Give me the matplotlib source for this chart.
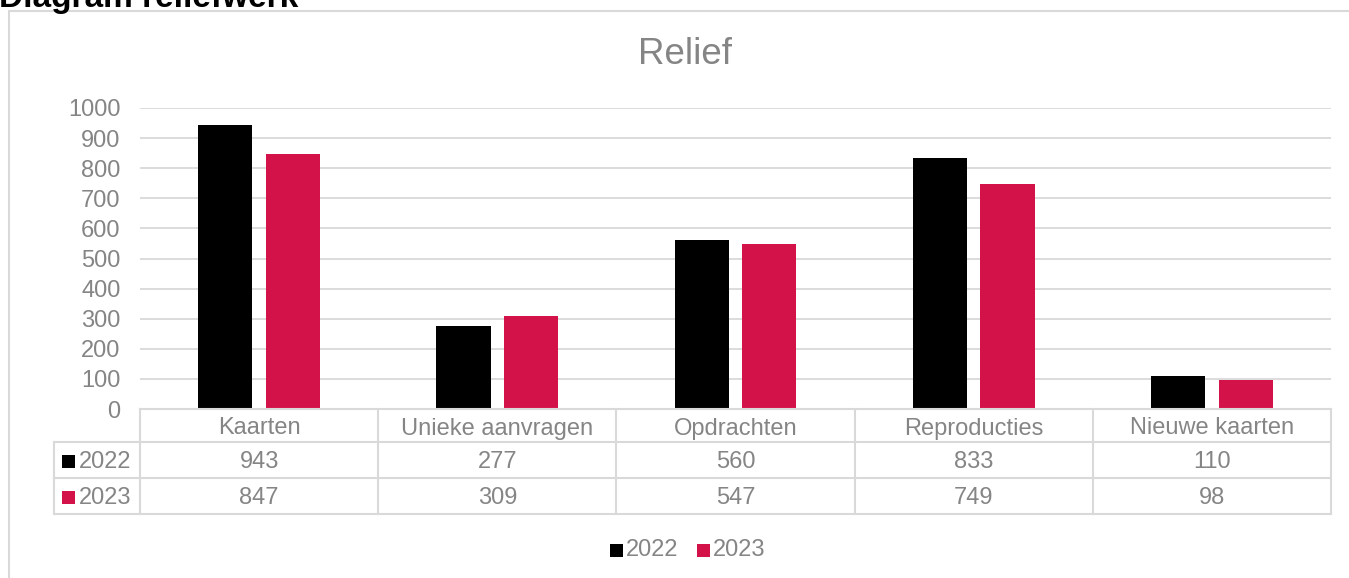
import matplotlib
matplotlib.use("Agg")
import matplotlib.pyplot as plt
from matplotlib.transforms import blended_transform_factory
from matplotlib.patches import Rectangle
from matplotlib.lines import Line2D

categories = ["Kaarten", "Unieke aanvragen", "Opdrachten", "Reproducties", "Nieuwe kaarten"]
series_names = ["2022", "2023"]
values_2022 = [943, 277, 560, 833, 110]
values_2023 = [847, 309, 547, 749, 98]
yticks = [0, 100, 200, 300, 400, 500, 600, 700, 800, 900, 1000]

colors = ["#000000", "#D4124A"]
gray_text = "#858585"
line_gray = "#D9D9D9"
font = "Liberation Sans"

W, H = 1349, 578
fig = plt.figure(figsize=(W / 100, H / 100), dpi=100)

def fx(px):
    return px / W

def fy(py):
    return 1 - py / H

# outer chart border
fig.add_artist(Rectangle((fx(9), fy(600)), fx(1400) - fx(9), fy(11) - fy(600),
                         transform=fig.transFigure, fill=False,
                         edgecolor=line_gray, lw=1.5))

# cut-off heading
fig.text(fx(-1), fy(7), "Diagram reliefwerk", fontsize=24, fontweight="bold",
         family=font, color="black", ha="left", va="baseline")

left, right, top, bottom = 140, 1331, 108, 409
ax = fig.add_axes([fx(left), fy(bottom), fx(right) - fx(left), fy(top) - fy(bottom)])
ax.set_xlim(-0.5, len(categories) - 0.5)
ax.set_ylim(0, 1000)

x = list(range(len(categories)))
bw = 0.227
off = 0.142
ax.bar([i - off for i in x], values_2022, width=bw, color=colors[0], zorder=3)
ax.bar([i + off for i in x], values_2023, width=bw, color=colors[1], zorder=3)

fs = 17
ax.set_yticks(yticks)
ax.set_yticklabels([str(t) for t in yticks], fontsize=fs, family=font, color=gray_text)
ax.tick_params(axis="y", length=0, pad=14)
ax.set_xticks([])
for t in yticks[1:]:
    ax.axhline(t, color=line_gray, lw=1.3, zorder=1)
for s in ax.spines.values():
    s.set_visible(False)

# title
fig.text(fx(685), fy(55), "Relief", fontsize=26.5, family=font, color=gray_text,
         ha="center", va="center")

# data table
tr = blended_transform_factory(ax.transData, fig.transFigure)
row_y = [409, 442, 478, 514]
n = len(categories)
fig.add_artist(Line2D([fx(left), fx(right)], [fy(row_y[0])] * 2, transform=fig.transFigure,
                      color=line_gray, lw=1.5))
for yy in row_y[1:]:
    fig.add_artist(Line2D([fx(54), fx(right)], [fy(yy)] * 2, transform=fig.transFigure,
                          color=line_gray, lw=1.5))
for b in range(n + 1):
    fig.add_artist(Line2D([b - 0.5, b - 0.5], [fy(row_y[0]), fy(row_y[3])], transform=tr,
                          color=line_gray, lw=1.5))
fig.add_artist(Line2D([fx(54)] * 2, [fy(row_y[1]), fy(row_y[3])], transform=fig.transFigure,
                      color=line_gray, lw=1.5))

for i, c in enumerate(categories):
    fig.text(i, fy((row_y[0] + row_y[1]) / 2 + 3), c, transform=tr, ha="center", va="center",
             fontsize=fs, family=font, color=gray_text)
for r, (name, vals) in enumerate(zip(series_names, [values_2022, values_2023])):
    yc = (row_y[r + 1] + row_y[r + 2]) / 2 + 1.5
    for i, v in enumerate(vals):
        fig.text(i, fy(yc), str(v), transform=tr, ha="center", va="center",
                 fontsize=fs, family=font, color=gray_text)
    fig.add_artist(Rectangle((fx(62), fy(yc + 6.5)), fx(13), fy(0) - fy(13),
                             transform=fig.transFigure, color=colors[r], lw=0))
    fig.text(fx(79), fy(yc), name, ha="left", va="center",
             fontsize=fs, family=font, color=gray_text)

# legend
leg_y = 550
for r, (name, lx) in enumerate(zip(series_names, [610, 697])):
    fig.add_artist(Rectangle((fx(lx), fy(leg_y + 6.5)), fx(13), fy(0) - fy(13),
                             transform=fig.transFigure, color=colors[r], lw=0))
    fig.text(fx(lx + 16), fy(leg_y), name, ha="left", va="center",
             fontsize=fs, family=font, color=gray_text)

fig.savefig("out.png", dpi=100)
